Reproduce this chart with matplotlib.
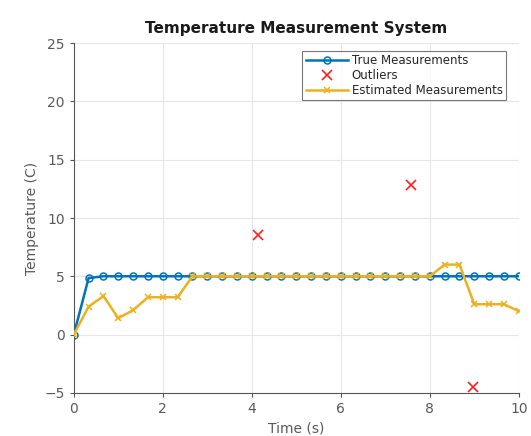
import numpy as np
import matplotlib
matplotlib.use('Agg')
import matplotlib.pyplot as plt

# time axis (s), sampled every 1/3 s
time = [0.0, 0.333, 0.667, 1.0, 1.333, 1.667, 2.0, 2.333, 2.667, 3.0,
        3.333, 3.667, 4.0, 4.333, 4.667, 5.0, 5.333, 5.667, 6.0, 6.333,
        6.667, 7.0, 7.333, 7.667, 8.0, 8.333, 8.667, 9.0, 9.333, 9.667, 10.0]
true_meas = [0.0, 4.85] + [5.0] * 29
est_meas = [0.0, 2.4, 3.3, 1.4, 2.1, 3.2, 3.2, 3.2] + [5.0] * 17 + \
           [6.0, 6.0, 2.6, 2.6, 2.6, 2.0]
out_t = [4.15, 7.58, 8.97]
out_v = [8.5, 12.8, -4.5]

BLUE = '#0072BD'
YELLOW = '#EDB120'
GREY = '#5a5a5a'

fig = plt.figure(figsize=(5.31, 4.36), dpi=100)
ax = fig.add_axes([0.139, 0.099, 0.838, 0.802])

ax.plot(time, true_meas, '-o', color=BLUE, lw=1.8, ms=5, mfc='none', mew=1.1,
        label='True Measurements', zorder=3)
ax.plot(out_t, out_v, 'x', color='#FF2020', ms=7, mew=1.2, lw=0,
        label='Outliers', zorder=4)
ax.plot(time, est_meas, '-x', color=YELLOW, lw=1.8, ms=5, mew=1.1,
        label='Estimated Measurements', zorder=4)

ax.set_xlim(0, 10); ax.set_ylim(-5, 25)
ax.set_xticks(np.arange(0, 11, 2)); ax.set_yticks(np.arange(-5, 26, 5))
ax.grid(True, color='#e6e6e6', lw=0.8)
ax.set_axisbelow(True)
for s in ['top', 'right']:
    ax.spines[s].set_visible(False)
for s in ['left', 'bottom']:
    ax.spines[s].set_color('#555555'); ax.spines[s].set_linewidth(0.8)
ax.tick_params(colors='#555555', labelcolor=GREY, labelsize=10, direction='out', length=3)
ax.set_xlabel('Time (s)', color=GREY, fontsize=10)
ax.set_ylabel('Temperature (C)', color=GREY, fontsize=10)
ax.set_title('Temperature Measurement System', fontsize=11, fontweight='bold',
             color='#1a1a1a', pad=7)

leg = ax.legend(loc='upper right', fontsize=8.5, frameon=True, fancybox=False,
                edgecolor='#555555', borderpad=0.3, handlelength=3.6,
                labelspacing=0.15, handletextpad=0.3, bbox_to_anchor=(0.985, 0.995))
leg.get_frame().set_linewidth(0.8)
for t in leg.get_texts():
    t.set_color('#262626')

plt.savefig('out.png', dpi=100)
